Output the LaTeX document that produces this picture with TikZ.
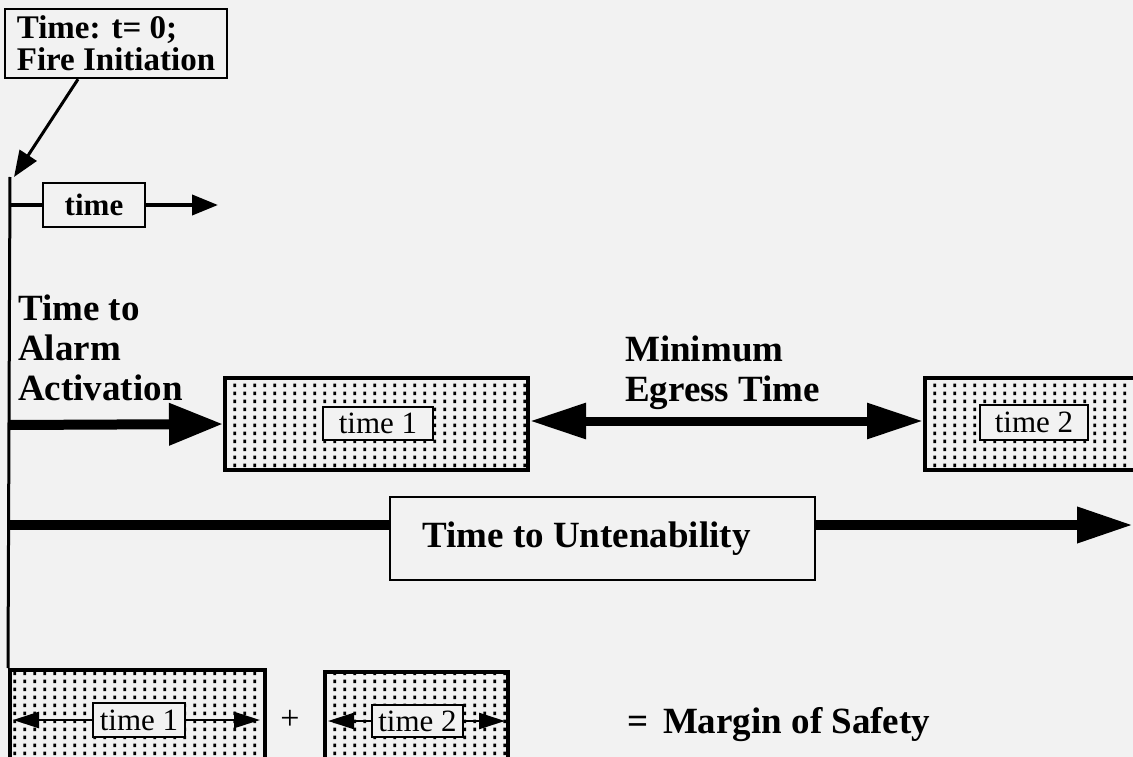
\documentclass[tikz,border=0pt]{standalone}
\usepackage{fontspec}
\setmainfont{Liberation Serif}
\usepackage{tikz}
\usetikzlibrary{positioning,calc,arrows.meta,patterns.meta}
\definecolor{figbg}{RGB}{242,242,242}
\tikzdeclarepattern{
  name=figdots,
  type=uncolored,
  bottom left={(0pt,0pt)},
  top right={(10pt,8pt)},
  tile size={(10pt,8pt)},
  code={\fill (3.8pt,2pt) rectangle (6.6pt,6pt);}
}
\tikzset{
  figfont/.style={font=\fontsize{37}{40}\selectfont\bfseries},
  figbox/.style={draw, line width=2.5pt, fill=figbg, inner sep=0pt},
  figdotbox/.style={draw, line width=4pt, pattern=figdots, pattern color=black, inner sep=0pt},
  figtag/.style={draw, line width=2pt, fill=figbg, inner sep=0pt, font=\fontsize{31}{31}\selectfont},
  figline/.style={line width=3pt},
  figarrow/.style={-{Triangle[length=26pt,width=20pt]}, line width=3pt},
  figarrowsmall/.style={-{Triangle[length=26pt,width=16pt]}, line width=2.5pt},
  figarrowstrong/.style={-{Triangle[length=54pt,width=40pt]}, line width=10pt},
  figarrowboth/.style={{Triangle[length=56pt,width=34pt]}-{Triangle[length=56pt,width=34pt]}, line width=9pt},
}
\begin{document}
\begin{tikzpicture}[x=1pt, y=-1pt]
		\fill[figbg] (0,0) rectangle (1133,757);
		\useasboundingbox (0,0) rectangle (1133,757);
		\clip (0,0) rectangle (1133,757);

		% Start of the time line
		\node[figbox, minimum width=222pt, minimum height=69pt, align=left,
		  font=\fontsize{33}{32}\selectfont\bfseries] (fire) at (116,43.5) {Time: t= 0;\\Fire Initiation};
		\coordinate (t0) at (10,177);
		\draw[figarrow] ([xshift=-38pt]fire.south) -- ([xshift=4pt]t0);

		% Time axis
		\node[figtag, font=\fontsize{31}{31}\selectfont\bfseries, minimum width=102pt, minimum height=44pt] (tag) at (94,205) {time};
		\coordinate (tag0) at (10,205);
		\coordinate (tag1) at (218,205);
		\draw[figline, line width=4pt] (tag0) -- (tag.west);
		\draw[figarrow, line width=4pt] (tag.east) -- (tag1);

		% Alarm and egress
		\node[figfont, align=left, anchor=north west, inner sep=0pt] (alarm) at (18,295) {Time to\\Alarm\\Activation};
		\node[figfont, align=left, anchor=north west, inner sep=0pt] (egress) at (625,336) {Minimum\\Egress Time};
		\node[figdotbox, minimum width=303pt, minimum height=92pt] (box1) at (376.5,424) {};
		\node[figtag, minimum width=110pt, minimum height=33pt] (t1) at (378,423.5) {time 1};
		\node[figdotbox, minimum width=235pt, minimum height=92pt] (box2) at (1042.5,424) {};
		\node[figtag, minimum width=108pt, minimum height=35pt] (t2) at (1034,422.5) {time 2};
		\coordinate (alarm0) at (10,425);
		\draw[figarrowstrong] (alarm0) -- (box1.west);
		\draw[figarrowboth] ([yshift=3pt]box1.east) -- ([yshift=3pt]box1.east -| box2.west);

		% Untenability
		\node[figbox, figfont, minimum width=425pt, minimum height=83pt] (unten) at (602.5,538.5) {Time to Untenability\kern32pt};
		\coordinate (unten0) at (10,525);
		\coordinate (unten1) at (1133,525);
		\draw[line width=10pt] (unten0) -- (unten0 -| unten.west);
		\draw[figarrowstrong, -{Triangle[length=56pt,width=34pt]}] (unten0 -| unten.east) -- (unten1);

		% Margin of safety
		\node[figdotbox, minimum width=255pt, minimum height=120pt] (sum1) at (137.5,730) {};
		\node[figtag, minimum width=92pt, minimum height=34pt] (s1) at (139,720) {time 1};
		\node[figdotbox, minimum width=183pt, minimum height=118pt] (sum2) at (416.5,731) {};
		\node[figtag, minimum width=91pt, minimum height=32pt] (s2) at (417.5,721) {time 2};
		\draw[figarrowsmall] (s1.west) -- ([xshift=5pt]sum1.west |- s1);
		\draw[figarrowsmall] (s1.east) -- ([xshift=-7pt]sum1.east |- s1);
		\draw[figarrowsmall] (s2.west) -- ([xshift=5pt]sum2.west |- s2);
		\draw[figarrowsmall] (s2.east) -- ([xshift=-5pt]sum2.east |- s2);
		\node[font=\fontsize{34}{34}\selectfont] (plus) at (290,720) {+};
		\node[figfont, anchor=base west, inner sep=0pt] (margin) at (627,733) {=\hspace{0.4em}Margin of Safety};

		\draw[figline] (t0) -- (sum1.north west);
	\end{tikzpicture}
\end{document}
